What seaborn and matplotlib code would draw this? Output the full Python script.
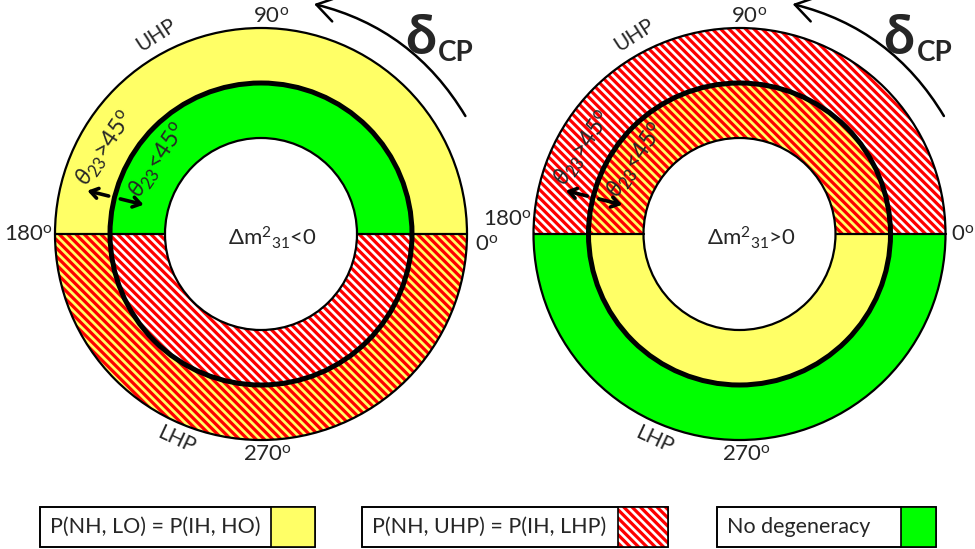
import numpy as np
import matplotlib
matplotlib.use("Agg")
import matplotlib.pyplot as plt
from matplotlib.patches import Wedge, Circle, Rectangle, FancyArrowPatch
import seaborn as sns

# ---- diagram content -------------------------------------------------------
panel_titles = ["\u0394m$^{2}$$_{31}$<0", "\u0394m$^{2}$$_{31}$>0"]

# ring regions: half of the circle, ring, and which degeneracy lives there
region_half = ["upper", "upper", "lower", "lower"]
region_ring = ["outer", "inner", "outer", "inner"]
left_kind = ["octant", "none", "both", "hier"]
right_kind = ["hier", "both", "none", "octant"]

angle_labels = ["0$^{\\rm o}$", "90$^{\\rm o}$", "180$^{\\rm o}$", "270$^{\\rm o}$"]
half_labels = ["UHP", "LHP"]
octant_labels = ["$\\theta_{23}$>45$^{\\rm o}$", "$\\theta_{23}$<45$^{\\rm o}$"]

legend_labels = ["P(NH, LO) = P(IH, HO)", "P(NH, UHP) = P(IH, LHP)", "No degeneracy"]
legend_kind = ["octant", "hier", "none"]

# ---- style ------------------------------------------------------------------
sns.set_theme(style="white")
plt.rcParams["font.family"] = ["Lato", "DejaVu Sans"]
plt.rcParams["mathtext.fontset"] = "custom"
plt.rcParams["mathtext.rm"] = "Lato"
plt.rcParams["mathtext.it"] = "Lato:italic"
plt.rcParams["mathtext.bf"] = "Lato:bold"
plt.rcParams["hatch.linewidth"] = 2.3

YELLOW = "#ffff66"
GREEN = "#00ff00"
RED = "#ff0000"
HATCH = "\\\\\\\\"

W, H = 975, 549
R_OUT, R_MID, R_IN = 206, 151, 96
centers = [(261, 315), (739.5, 315)]


def kind_style(kind):
    if kind == "octant":
        return dict(facecolor=YELLOW, edgecolor=YELLOW)
    if kind == "none":
        return dict(facecolor=GREEN, edgecolor=GREEN)
    if kind == "hier":
        return dict(facecolor="white", edgecolor=RED, hatch=HATCH)
    return dict(facecolor=YELLOW, edgecolor=RED, hatch=HATCH)


fig = plt.figure(figsize=(W / 100, H / 100), dpi=100)
ax = fig.add_axes([0, 0, 1, 1])
ax.set_xlim(0, W)
ax.set_ylim(0, H)
ax.set_aspect("equal")
ax.axis("off")

for p, (cx, cy) in enumerate(centers):
    kinds = left_kind if p == 0 else right_kind
    for half, ring, kind in zip(region_half, region_ring, kinds):
        t1, t2 = (0, 180) if half == "upper" else (180, 360)
        r = R_OUT if ring == "outer" else R_MID
        w = Wedge((cx, cy), r, t1, t2, width=r - (R_MID if ring == "outer" else R_IN),
                  linewidth=0, **kind_style(kind))
        ax.add_patch(w)

    # outlines
    ax.add_patch(Circle((cx, cy), R_OUT, fill=False, lw=1.6, ec="black"))
    ax.add_patch(Circle((cx, cy), R_IN, fill=False, lw=1.6, ec="black"))
    ax.add_patch(Circle((cx, cy), R_MID, fill=False, lw=3.6, ec="black"))
    ax.plot([cx - R_OUT, cx - R_IN], [cy, cy], color="black", lw=1.6)
    ax.plot([cx + R_IN, cx + R_OUT], [cy, cy], color="black", lw=1.6)

    # centre text
    ax.text(cx + 12, cy - 4, panel_titles[p], ha="center", va="center", fontsize=16)

    # angle labels
    fs = 16
    ax.text(cx + 10, cy + 217, angle_labels[1], ha="center", va="center", fontsize=fs)
    ax.text(cx + 7, cy - 221, angle_labels[3], ha="center", va="center", fontsize=fs)
    if p == 0:
        ax.text(29, H - 235, angle_labels[2], ha="center", va="center", fontsize=fs)
        ax.text(487, H - 245, angle_labels[0], ha="center", va="center", fontsize=fs)
    else:
        ax.text(508, H - 220, angle_labels[2], ha="center", va="center", fontsize=fs)
        ax.text(963, H - 235, angle_labels[0], ha="center", va="center", fontsize=fs)

    ax.text(cx - 105, cy + 199, half_labels[0], ha="center", va="center",
            fontsize=15, rotation=33)
    ax.text(cx - 85, cy - 206, half_labels[1], ha="center", va="center",
            fontsize=15, rotation=-25)

    # octant labels
    ax.text(cx - 156, cy + 85, octant_labels[0], ha="center", va="center",
            fontsize=17, rotation=56)
    ax.text(cx - 103, cy + 73, octant_labels[1], ha="center", va="center",
            fontsize=17, rotation=56)

    # small radial arrows across the theta23 = 45 circle
    a = np.radians(166)
    for r0, r1 in [(157, 179), (145, 121)]:
        ax.annotate("", xy=(cx + r1 * np.cos(a), cy + r1 * np.sin(a)),
                    xytext=(cx + r0 * np.cos(a), cy + r0 * np.sin(a)),
                    arrowprops=dict(arrowstyle="->,head_length=0.45,head_width=0.3",
                                    lw=2.6, color="black", shrinkA=0, shrinkB=0))

    # delta_CP direction arrow
    ra, a0, a1 = 236, np.radians(30), np.radians(77)
    arc = FancyArrowPatch((cx + ra * np.cos(a0), cy + ra * np.sin(a0)),
                          (cx + ra * np.cos(a1), cy + ra * np.sin(a1)),
                          connectionstyle="arc3,rad=0.208",
                          arrowstyle="->,head_length=0.7,head_width=0.45",
                          mutation_scale=20, lw=1.8, color="black",
                          shrinkA=0, shrinkB=0)
    ax.add_patch(arc)
    ax.text(cx + 175, cy + 196, "\u03b4", ha="right", va="center",
            fontsize=40, fontweight="bold")
    ax.text(cx + 177, cy + 181, "CP", ha="left", va="center",
            fontsize=20, fontweight="bold")

# legend boxes
box_x = [(40, 271, 315), (362, 618, 668), (717, 901, 936)]
box_y0, box_y1 = H - 547, H - 507
for label, kind, (x0, xs, x1) in zip(legend_labels, legend_kind, box_x):
    ax.add_patch(Rectangle((x0, box_y0), x1 - x0, box_y1 - box_y0,
                           facecolor="white", edgecolor="black", lw=1.2))
    ax.add_patch(Rectangle((xs, box_y0), x1 - xs, box_y1 - box_y0,
                           linewidth=0, **kind_style(kind)))
    ax.add_patch(Rectangle((x0, box_y0), x1 - x0, box_y1 - box_y0,
                           fill=False, edgecolor="black", lw=1.2))
    ax.plot([xs, xs], [box_y0, box_y1], color="black", lw=1.2)
    ax.text(x0 + 10, (box_y0 + box_y1) / 2, label, ha="left", va="center", fontsize=15.5)

fig.savefig("out.png", dpi=100)
